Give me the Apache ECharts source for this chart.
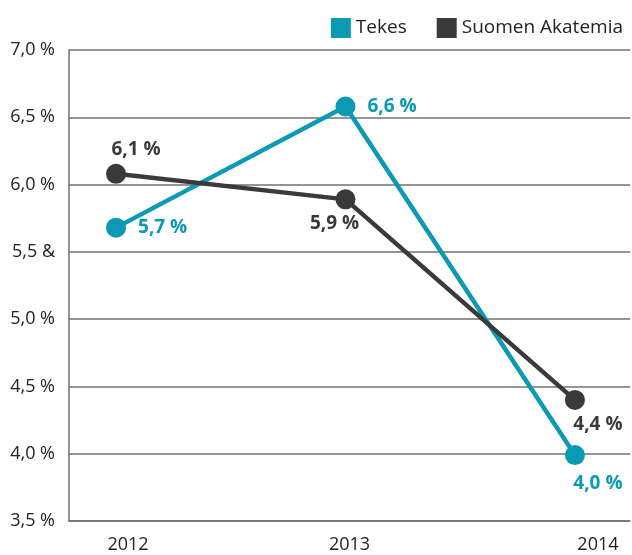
<!DOCTYPE html>
<html>
<head>
<meta charset="utf-8">
<script src="https://cdn.jsdelivr.net/npm/echarts@6/dist/echarts.min.js"></script>
<style>
  html, body { margin: 0; padding: 0; background: #fff; }
  #chart { width: 632px; height: 555px; }
</style>
</head>
<body>
<div id="chart"></div>
<script>
var years = [2012, 2013, 2014];
var tekes = [5.68, 6.58, 3.99];
var akatemia = [6.08, 5.89, 4.40];
var tekesLabels = ['5,7 %', '6,6 %', '4,0 %'];
var akatemiaLabels = ['6,1 %', '5,9 %', '4,4 %'];
var yTickLabels = ['3,5 %', '4,0 %', '4,5 %', '5,0 %', '5,5 &', '6,0 %', '6,5 %', '7,0 %'];

var teal = '#0a9ab4';
var dark = '#3a3a3a';
var font = '"Open Sans", "Noto Sans", sans-serif';

// label placement per point (roughly as in the picture)
var tekesPos = [
    { position: 'right', distance: 12, offset: [0, 0] },
    { position: 'right', distance: 12, offset: [0, 0] },
    { position: 'bottom', distance: 9, offset: [23, 0] }
];
var akatemiaPos = [
    { position: 'top', distance: 5, offset: [20, 0] },
    { position: 'bottom', distance: 5, offset: [-11, 0] },
    { position: 'bottom', distance: 5, offset: [23, 0] }
];

function makeData(values, labels, pos) {
    var out = [];
    for (var i = 0; i < values.length; i++) {
        out.push({
            value: [years[i], values[i]],
            label: { position: pos[i].position, distance: pos[i].distance, offset: pos[i].offset, formatter: labels[i] }
        });
    }
    return out;
}

var myChart = echarts.init(document.getElementById('chart'));
var option = {
    backgroundColor: '#fff',
    animation: false,
    textStyle: { fontFamily: font },
    legend: {
        right: 4, top: 13,
        icon: 'rect', itemWidth: 20, itemHeight: 20, itemGap: 30,
        textStyle: { fontSize: 19, color: '#222', fontFamily: font },
        data: ['Tekes', 'Suomen Akatemia']
    },
    grid: { left: 69, right: 2, top: 50, bottom: 34, containLabel: false },
    xAxis: {
        type: 'value',
        min: 2011.795, max: 2014.24,
        axisLine: { show: true, lineStyle: { color: '#707070', width: 1.5 } },
        axisTick: { show: false },
        splitLine: { show: false },
        axisLabel: {
            customValues: years,
            margin: 15,
            fontSize: 18, color: '#222', fontFamily: font,
            formatter: function (v) {
                var i = years.indexOf(v);
                return '{y' + i + '|' + v + '}';
            },
            rich: {
                y0: { fontSize: 18, color: '#222', fontFamily: font, padding: [0, 0, 0, 24] },
                y1: { fontSize: 18, color: '#222', fontFamily: font, padding: [0, 0, 0, 8] },
                y2: { fontSize: 18, color: '#222', fontFamily: font, padding: [0, 0, 0, 46] }
            }
        }
    },
    yAxis: {
        type: 'value',
        min: 3.5, max: 7, interval: 0.5,
        axisLine: { show: true, lineStyle: { color: '#707070', width: 1.5 } },
        axisTick: { show: false },
        splitLine: { show: true, lineStyle: { color: '#707070', width: 1.5 } },
        axisLabel: {
            margin: 14,
            fontSize: 18, color: '#222', fontFamily: font,
            formatter: function (v) {
                var i = Math.round((v - 3.5) / 0.5);
                return yTickLabels[i];
            }
        }
    },
    series: [
        {
            name: 'Tekes', type: 'line',
            data: makeData(tekes, tekesLabels, tekesPos),
            symbol: 'circle', symbolSize: 20,
            itemStyle: { color: teal },
            lineStyle: { color: teal, width: 4.5 },
            label: { show: true, fontSize: 19, fontWeight: 'bold', color: teal, fontFamily: font }
        },
        {
            name: 'Suomen Akatemia', type: 'line',
            data: makeData(akatemia, akatemiaLabels, akatemiaPos),
            symbol: 'circle', symbolSize: 20,
            itemStyle: { color: dark },
            lineStyle: { color: dark, width: 4.5 },
            label: { show: true, fontSize: 19, fontWeight: 'bold', color: dark, fontFamily: font }
        }
    ]
};
myChart.setOption(option);
</script>
</body>
</html>
